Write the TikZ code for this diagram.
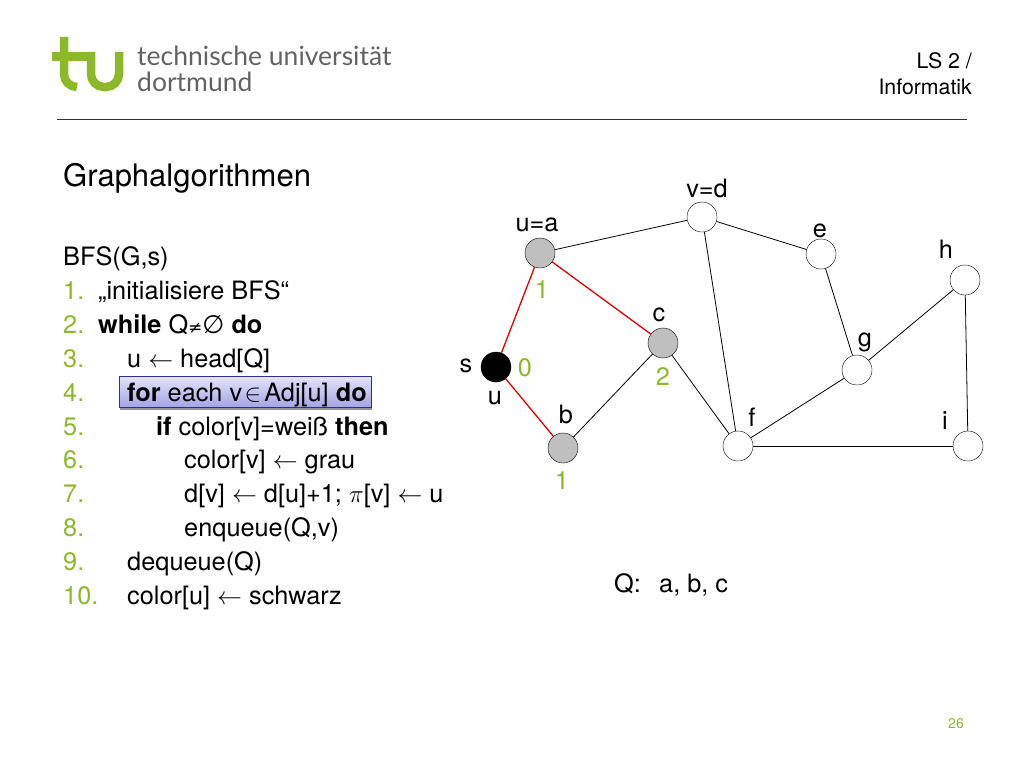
\documentclass[tikz,border=0pt]{standalone}
\usepackage{fontspec}
\setmainfont{TeX Gyre Heros}
\newfontfamily\logofont{Lato}
\newfontfamily\symbfont{DejaVu Sans}
\usetikzlibrary{shadows}

\definecolor{tugreen}{HTML}{8DB82A}
\definecolor{logogray}{HTML}{626262}
\definecolor{hlblue}{HTML}{2E2E8C}
\definecolor{hltop}{HTML}{E4E4F8}
\definecolor{hlbottom}{HTML}{A4A4E6}

\begin{document}
\begin{tikzpicture}[
            x=1pt, y=-1pt,
            vertex/.style={
                draw,
                circle,
                fill=white,
                inner sep=0pt,
                minimum size=30pt
            },
            grayvertex/.style={vertex, fill=black!25},
            blackvertex/.style={vertex, fill=black},
            edge/.style={line width=0.8pt},
            treeedge/.style={line width=1.3pt, red!90!black},
            vlabel/.style={font=\fontsize{25.3}{25.3}\selectfont},
            dlabel/.style={font=\fontsize{25.3}{25.3}\selectfont, text=tugreen},
            codeline/.style={anchor=base west, inner sep=0pt, font=\fontsize{25.3}{25.3}\selectfont},
            nr/.style={codeline, text=tugreen},
            logotext/.style={anchor=base west, inner sep=0pt, text=logogray, font=\logofont\fontsize{26.5}{26.5}\selectfont},
            headtext/.style={anchor=base east, inner sep=0pt, font=\fontsize{21.3}{21.3}\selectfont},
            logostroke/.style={tugreen, line width=8.5pt, rounded corners=13pt}
        ]
        \useasboundingbox (0,0) rectangle (1024,768);

        % logo
        \draw[logostroke, rounded corners=0pt] (52,56.5) -- (95,56.5);
        \draw[logostroke] (64,37) -- (64,87) -- (77,87);
        \draw[logostroke] (91,52) -- (91,87) -- (119,87) -- (119,52);

        \node[logotext] (uni) at (137,65) {technische universität};
        \node[logotext] (dort) at (137,91) {dortmund};
        \node[headtext] (chair) at (972,68) {LS 2 /};
        \node[headtext] (inf) at (972,94) {Informatik};
        \draw[line width=0.8pt, black!80] (57,119.5) -- (967,119.5);

        \node[codeline, font=\fontsize{31}{31}\selectfont] (title) at (63,186) {Graphalgorithmen};

        % highlight
        \node[anchor=north west, inner sep=0pt, minimum width=252pt, minimum height=31pt,
              draw=hlblue, top color=hltop, bottom color=hlbottom, line width=0.7pt,
              drop shadow={shadow xshift=1pt, shadow yshift=-2.5pt, opacity=0.6, fill=black!70}] (hl) at (119,376) {};

        % code
        \node[codeline] (bfs) at (63,265) {BFS(G,s)};
        \node[nr] (n1) at (63,299) {1.};
        \node[nr] (n2) at (63,333) {2.};
        \node[nr] (n3) at (63,367) {3.};
        \node[nr] (n4) at (63,401) {4.};
        \node[nr] (n5) at (63,435) {5.};
        \node[nr] (n6) at (63,468) {6.};
        \node[nr] (n7) at (63,502) {7.};
        \node[nr] (n8) at (63,536) {8.};
        \node[nr] (n9) at (63,570) {9.};
        \node[nr] (n10) at (63,604) {10.};

        \node[codeline] (l1) at (98,299) {„initialisiere BFS“};
        \node[codeline] (l2) at (98,333) {\textbf{while} Q{\symbfont\fontsize{17}{17}\selectfont ≠}{\symbfont ∅} \textbf{do}};
        \node[codeline] (l3) at (127,367) {u $\leftarrow$ head[Q]};
        \node[codeline] (l4) at (127,401) {\textbf{for} each v\hspace{2.5pt}$\in$\hspace{3pt}Adj[u] \textbf{do}};
        \node[codeline] (l5) at (156,435) {\textbf{if} color[v]=weiß \textbf{then}};
        \node[codeline] (l6) at (184,468) {color[v] $\leftarrow$ grau};
        \node[codeline] (l7) at (184,502) {d[v] $\leftarrow$ d[u]+1; $\pi$[v] $\leftarrow$ u};
        \node[codeline] (l8) at (184,536) {enqueue(Q,v)};
        \node[codeline] (l9) at (127,570) {dequeue(Q)};
        \node[codeline] (l10) at (127,604) {color[u] $\leftarrow$ schwarz};

        % graph
        \node[blackvertex] (s) at (496,367) {};
        \node[grayvertex] (a) at (540,253) {};
        \node[grayvertex] (b) at (563,448) {};
        \node[grayvertex] (c) at (663,343) {};
        \node[vertex] (d) at (702,217) {};
        \node[vertex] (e) at (821,254) {};
        \node[vertex] (f) at (738,446) {};
        \node[vertex] (g) at (857,370) {};
        \node[vertex] (h) at (965,280) {};
        \node[vertex] (i) at (968,446) {};

        \draw[treeedge] (s) -- (a);
        \draw[treeedge] (s) -- (b);
        \draw[treeedge] (a) -- (c);
        \draw[edge] (a) -- (d);
        \draw[edge] (b) -- (c);
        \draw[edge] (c) -- (f);
        \draw[edge] (d) -- (e);
        \draw[edge] (d) -- (f);
        \draw[edge] (e) -- (g);
        \draw[edge] (f) -- (g);
        \draw[edge] (f) -- (i);
        \draw[edge] (g) -- (h);
        \draw[edge] (h) -- (i);

        \node[vlabel] (la) at (537,225) {u=a};
        \node[vlabel] (ld) at (707,188) {v=d};
        \node[vlabel] (ls) at (466,366) {s};
        \node[vlabel] (lu) at (495,398) {u};
        \node[vlabel] (lb) at (566,414) {b};
        \node[vlabel] (lc) at (659,315) {c};
        \node[vlabel] (le) at (820,231) {e};
        \node[vlabel] (lf) at (752,417) {f};
        \node[vlabel] (lg) at (865,342) {g};
        \node[vlabel] (lh) at (946,249) {h};
        \node[vlabel] (li) at (945,421) {i};

        \node[dlabel] (da) at (542,290) {1};
        \node[dlabel] (ds) at (525,368) {0};
        \node[dlabel] (dc) at (663,377) {2};
        \node[dlabel] (db) at (562,481) {1};

        \node[codeline] (q) at (614,592) {Q:};
        \node[codeline] (qval) at (659,592) {a, b, c};
        \node[headtext, text=tugreen, font=\fontsize{14}{14}\selectfont] (page) at (964,728) {26};
        \end{tikzpicture}
\end{document}
